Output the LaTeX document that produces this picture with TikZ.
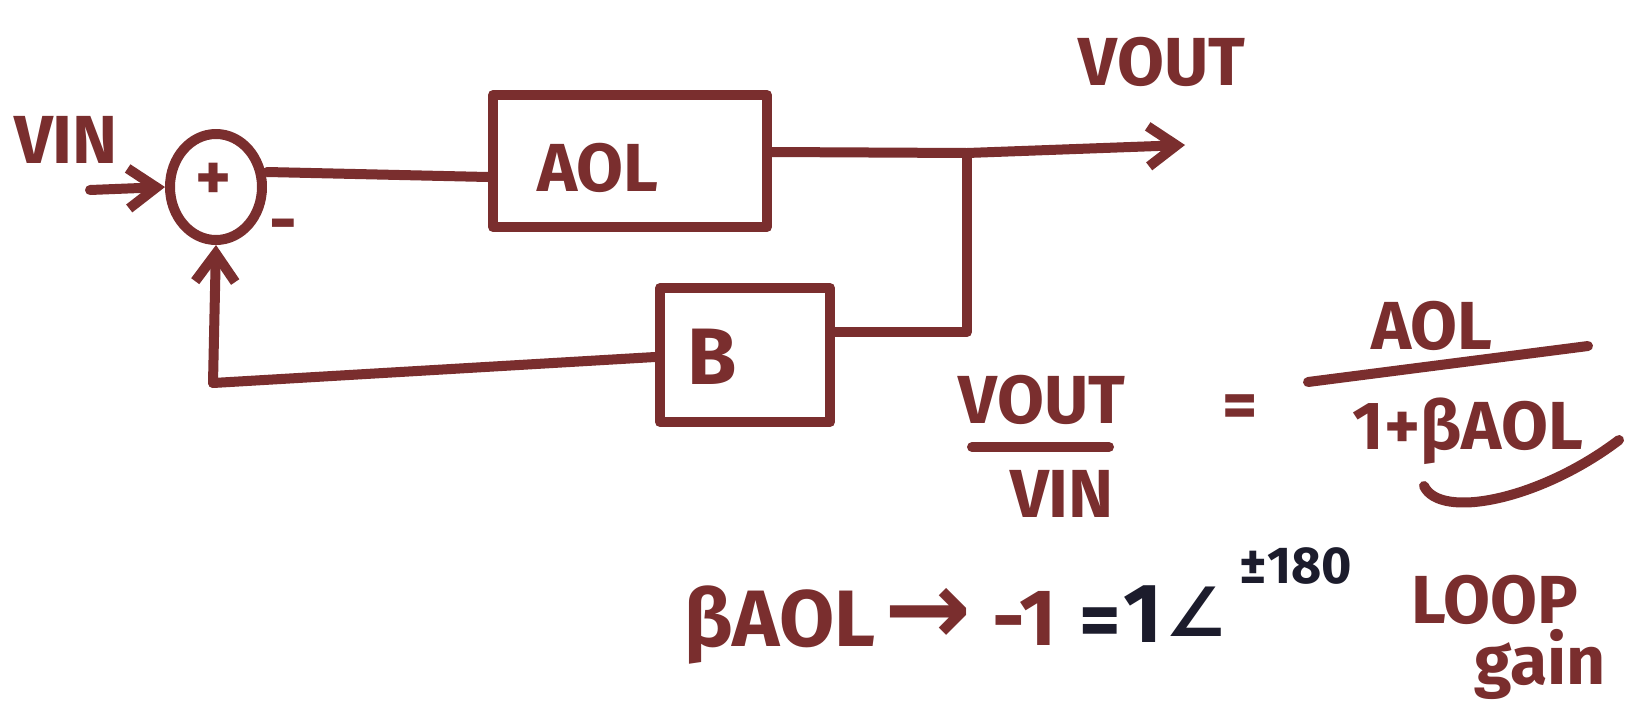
\documentclass[tikz,border=0pt]{standalone}
\usepackage{fontspec}
\setmainfont{Fira Sans}
\newfontfamily\symfont{DejaVu Sans}
\usetikzlibrary{arrows.meta,shapes.geometric}
\definecolor{ink}{RGB}{122,46,46}
\definecolor{darkink}{RGB}{28,28,44}
\tikzset{
  pen/.style={draw=ink, line width=5pt, line cap=round, line join=round},
  arr/.style={pen, -{Straight Barb[length=14pt,width=20pt,line width=5pt]}},
  blockbox/.style={pen, rectangle, inner sep=0pt},
  lbl/.style={text=ink, font=\bfseries\fontsize{34}{40}\selectfont, inner sep=0pt},
  dlbl/.style={text=darkink, font=\bfseries\fontsize{34}{40}\selectfont, inner sep=0pt},
}
\begin{document}
\begin{tikzpicture}[x=0.5pt, y=-0.5pt]
\useasboundingbox (0,0) rectangle (1648,707);
\fill[white] (0,0) rectangle (1648,707);

% summing junction
\node[pen, ellipse, minimum width=46pt, minimum height=53pt, inner sep=0pt] (sum) at (216,187) {};
\node[lbl] (plus) at (214,182) {+};
\node[lbl] (minus) at (283,232) {-};
\node[lbl] (vin) at (66,140) {VIN};
\coordinate (src) at (90,190);

% forward block
\node[blockbox, minimum width=137pt, minimum height=66pt] (aol) at (630,161) {};
\node[lbl] (aoltxt) at (598,168) {AOL};

% feedback block
\node[blockbox, minimum width=85pt, minimum height=67pt] (beta) at (745,355) {};
\node[lbl, font=\bfseries\fontsize{40}{46}\selectfont] (btxt) at (712,357) {B};

% output branch
\coordinate (j) at (967,153);
\coordinate (tip) at (1185,145);
\coordinate (jb) at (967,332);
\coordinate (fb) at (213,383);
\node[lbl] (vout) at (1162,62) {VOUT};

% connectors
\draw[arr] (src) -- (sum.west);
\draw[pen] (sum.east |- 0,172) -- (aol.west |- 0,177);
\draw[pen] (aol.east |- 0,152) -- (j);
\draw[arr] (j) -- (tip);
\draw[pen] (j) -- (jb) -- (beta.east |- jb);
\draw[pen] (beta.west |- 0,357) -- (fb);
\draw[arr] (fb) -- (sum.south);

% closed-loop gain
\node[lbl] (num1) at (1042,400) {VOUT};
\draw[pen] (972,447) -- (1109,447);
\node[lbl] (den1) at (1062,494) {VIN};
\node[lbl] (eq1) at (1240,412) {=};
\node[lbl] (num2) at (1432,326) {AOL};
\draw[pen] (1308,382) -- (1588,346);
\node[lbl] (den2) at (1468,431) {1+βAOL};
\draw[pen] (1424,486) .. controls (1440,520) and (1540,500) .. (1619,440);

% loop gain condition
\node[lbl, font=\bfseries\fontsize{40}{46}\selectfont] (cond) at (780,625) {βAOL};
\node[lbl, font=\bfseries\symfont\fontsize{52}{58}\selectfont] (arrow) at (928,616) {→};
\node[lbl, font=\bfseries\fontsize{40}{46}\selectfont] (neg) at (1025,618) {-1};
\node[dlbl, font=\bfseries\fontsize{40}{46}\selectfont] (eq2) at (1100,628) {=};
\node[dlbl, font=\bfseries\fontsize{42}{48}\selectfont] (one) at (1143,614) {1};
\node[dlbl, font=\bfseries\symfont\fontsize{34}{40}\selectfont] (ang) at (1196,612) {∠};
\node[dlbl, font=\bfseries\fontsize{26}{30}\selectfont] (deg) at (1296,566) {±180};
\node[lbl] (loop) at (1495,600) {LOOP};
\node[lbl] (gain) at (1540,664) {gain};
\end{tikzpicture}
\end{document}
